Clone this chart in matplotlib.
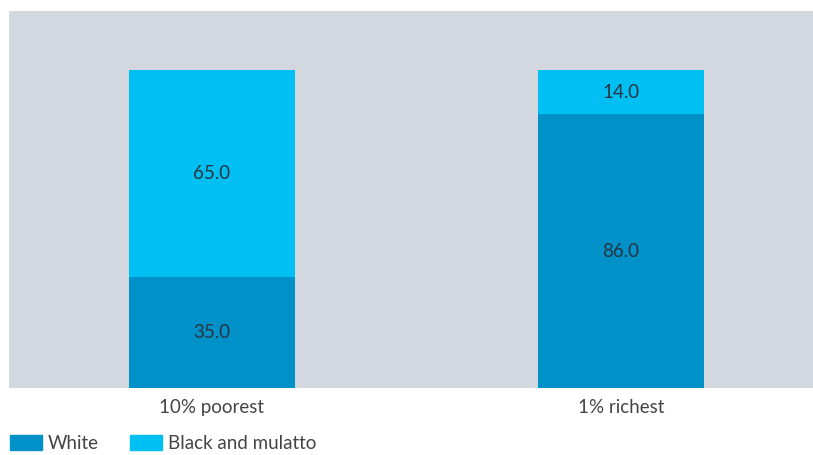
import matplotlib
matplotlib.use("Agg")
import matplotlib.pyplot as plt
from matplotlib.patches import Patch

categories = ["10% poorest", "1% richest"]
white = [35.0, 86.0]
black_mulatto = [65.0, 14.0]
series_names = ["White", "Black and mulatto"]

c_white = "#0091c8"
c_black = "#00bff3"
bg = "#d3d7df"

plt.rcParams['font.family'] = ['Lato', 'DejaVu Sans']

fig = plt.figure(figsize=(8.13, 4.55), dpi=100)
ax = fig.add_axes([9/813, (455-388)/455, 1 - 9/813, (388-11)/455])
ax.set_facecolor(bg)
x = list(range(len(categories)))
w = 0.406
b1 = ax.bar(x, white, width=w, color=c_white, label=series_names[0])
b2 = ax.bar(x, black_mulatto, width=w, bottom=white, color=c_black, label=series_names[1])
for bars, vals, bots in [(b1, white, [0, 0]), (b2, black_mulatto, white)]:
    for r, v, bt in zip(bars, vals, bots):
        ax.text(r.get_x() + r.get_width()/2, bt + v/2, f"{v:.1f}", ha='center', va='center',
                fontsize=13.5, color="#2a3440")
ax.set_xlim(-0.496, 1.469)
ax.set_ylim(0, 118.5)
ax.set_xticks(x)
ax.set_xticklabels(categories, fontsize=13.5, color="#444444")
ax.tick_params(axis='x', length=0, pad=8)
ax.set_yticks([])
for s in ax.spines.values():
    s.set_visible(False)

handles = [Patch(color=c_white), Patch(color=c_black)]
fig.legend(handles, series_names, loc='lower left', bbox_to_anchor=(0.0054, -0.006), ncol=2,
           frameon=False, fontsize=13.5, handlelength=1.7, handleheight=0.85,
           columnspacing=1.7, handletextpad=0.3, borderpad=0.3, borderaxespad=0,
           labelcolor="#444444")
fig.savefig("out.png", dpi=100)
